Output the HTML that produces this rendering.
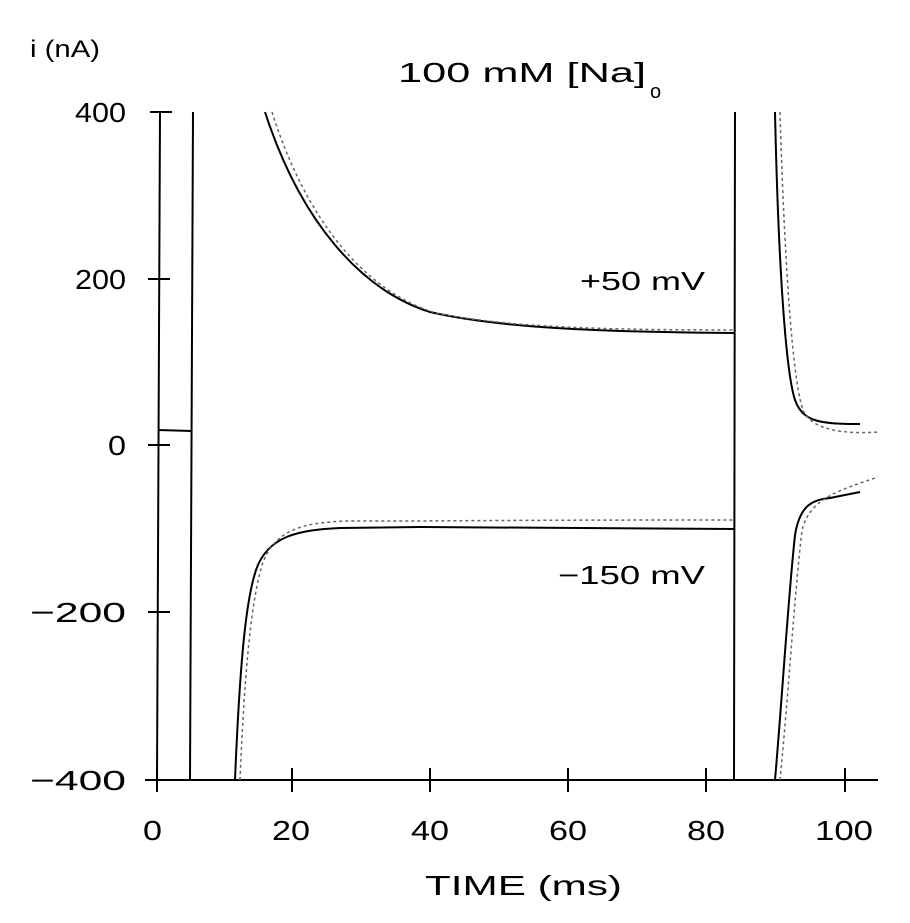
<!DOCTYPE html>
<html><head><style>body{margin:0;background:#fff}</style></head><body>
<svg width="910" height="918" xmlns="http://www.w3.org/2000/svg" font-family="Liberation Sans, DejaVu Sans, sans-serif" fill="#000">
<rect width="910" height="918" fill="#fff"/>
<g stroke="#000" stroke-width="2" fill="none">
<line x1="160" y1="112" x2="157" y2="780"/>
<line x1="193" y1="112" x2="190" y2="780"/>
<line x1="150" y1="112" x2="172" y2="112"/>
<line x1="148" y1="279" x2="170" y2="279"/>
<line x1="148" y1="445" x2="170" y2="445"/>
<line x1="148" y1="612" x2="170" y2="612"/>
<line x1="145" y1="780" x2="878" y2="780"/>
<line x1="157" y1="768" x2="157" y2="792"/>
<line x1="292" y1="768" x2="292" y2="792"/>
<line x1="430" y1="768" x2="430" y2="792"/>
<line x1="568" y1="768" x2="568" y2="792"/>
<line x1="706" y1="768" x2="706" y2="792"/>
<line x1="845" y1="768" x2="845" y2="792"/>
<line x1="735" y1="112" x2="734" y2="780"/>
<line x1="158" y1="430" x2="192" y2="431"/>
<path d="M265,112 C300,220 360,290 430,312 C500,328 600,332 735,333"/>
<path d="M235,780 C240,660 246,600 256,570 C268,535 300,530 340,528 L420,527 C560,527 650,529 735,529"/>
<path d="M775,112 C778,250 785,370 795,400 C803,422 820,424 860,424"/>
<path d="M775,780 C782,700 788,600 795,535 C800,505 812,500 830,498 L860,492"/>
</g>
<g stroke="#666" stroke-width="1.5" fill="none" stroke-dasharray="3,3">
<path d="M272,112 C306,220 365,292 436,313 C505,327 600,330 735,330"/>
<path d="M240,780 C245,660 252,600 262,565 C275,528 305,523 345,521 L420,521 C560,520 650,520 735,520"/>
<path d="M780,112 C784,250 792,380 803,410 C812,432 850,434 878,432"/>
<path d="M780,780 C788,700 794,600 802,530 C810,498 840,490 878,477"/>
</g>
<g font-size="28">
<text x="75" y="122" textLength="51" lengthAdjust="spacingAndGlyphs">400</text>
<text x="75" y="289" textLength="51" lengthAdjust="spacingAndGlyphs">200</text>
<text x="108" y="455" textLength="18" lengthAdjust="spacingAndGlyphs">0</text>
<text x="30" y="622" textLength="96" lengthAdjust="spacingAndGlyphs">−200</text>
<text x="30" y="790" textLength="96" lengthAdjust="spacingAndGlyphs">−400</text>
<text x="143" y="840" textLength="19" lengthAdjust="spacingAndGlyphs">0</text>
<text x="272" y="840" textLength="38" lengthAdjust="spacingAndGlyphs">20</text>
<text x="411" y="840" textLength="38" lengthAdjust="spacingAndGlyphs">40</text>
<text x="549" y="840" textLength="38" lengthAdjust="spacingAndGlyphs">60</text>
<text x="687" y="840" textLength="38" lengthAdjust="spacingAndGlyphs">80</text>
<text x="815" y="840" textLength="58" lengthAdjust="spacingAndGlyphs">100</text>
<text x="425" y="895" textLength="197" lengthAdjust="spacingAndGlyphs">TIME (ms)</text>
</g>
<text x="30" y="57" font-size="24" textLength="70" lengthAdjust="spacingAndGlyphs">i (nA)</text>
<text x="398" y="82" font-size="28" textLength="248" lengthAdjust="spacingAndGlyphs">100 mM [Na]</text>
<text x="650" y="98" font-size="20">o</text>
<text x="580" y="290" font-size="26" textLength="125" lengthAdjust="spacingAndGlyphs">+50 mV</text>
<text x="558" y="584" font-size="26" textLength="147" lengthAdjust="spacingAndGlyphs">−150 mV</text>
</svg>
</body></html>
